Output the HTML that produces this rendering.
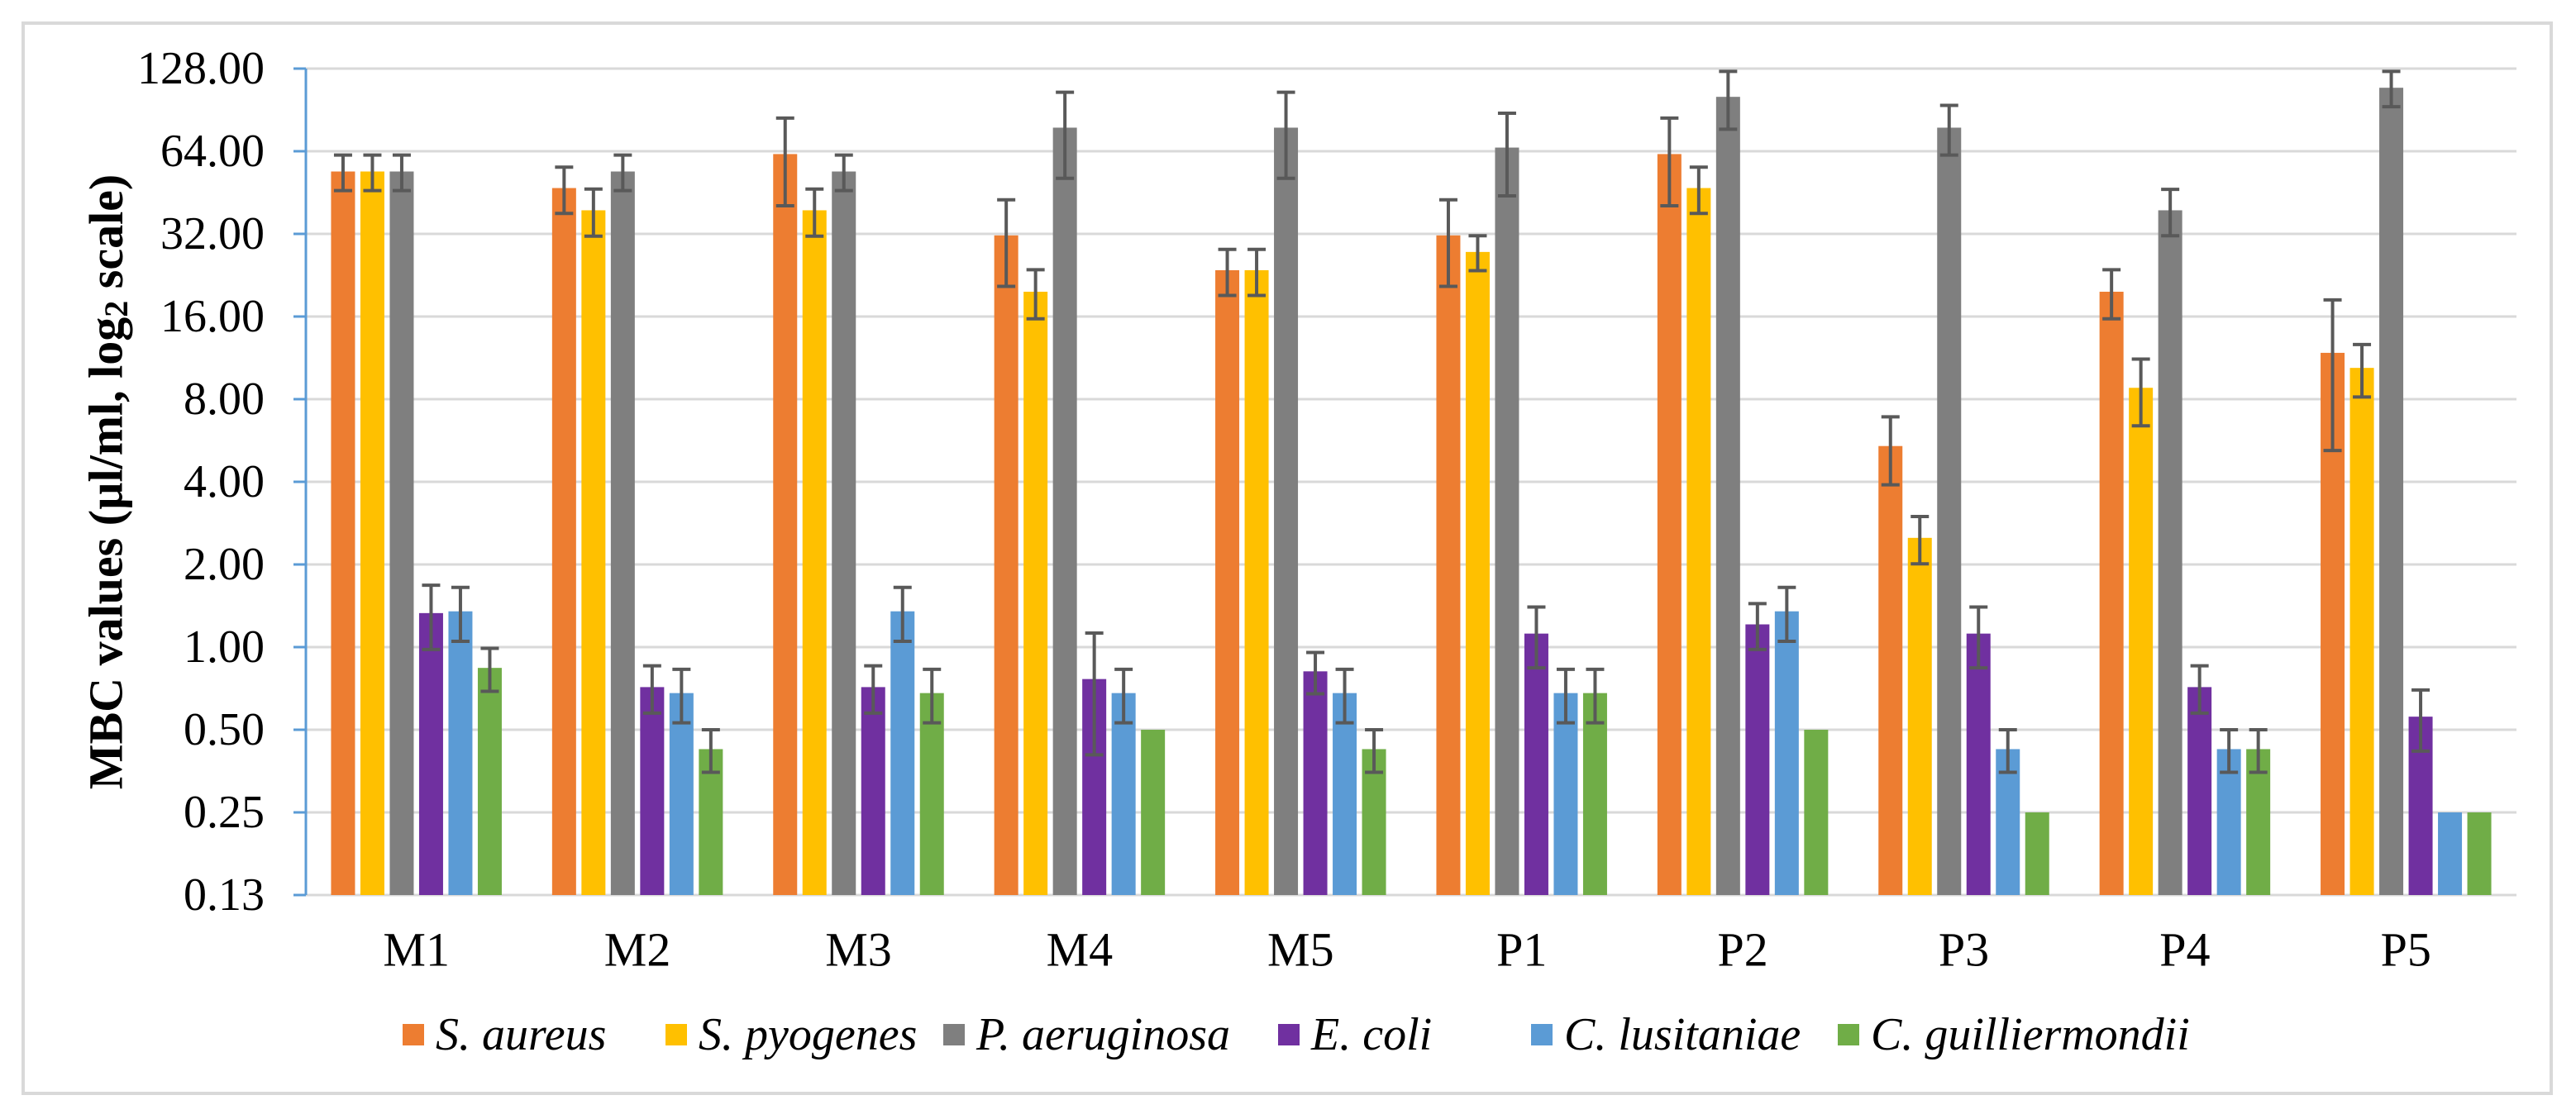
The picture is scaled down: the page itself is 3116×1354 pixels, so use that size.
<!DOCTYPE html>
<html><head><meta charset="utf-8"><style>
html,body{margin:0;padding:0;background:#fff;}
svg, svg text{font-family:"Liberation Serif","Times New Roman",serif;}
</style></head><body>
<svg id="chart" width="3116" height="1349" viewBox="0 0 3116 1349" xmlns="http://www.w3.org/2000/svg" font-family="Liberation Serif, serif">
<rect x="28" y="28" width="3058" height="1295" fill="#fff" stroke="#d9d9d9" stroke-width="4"/>
<g id="grid"></g>
<g id="bars"></g>
<g id="errs"></g>
<g id="yaxis"></g>
<g id="xaxis"></g>
<text font-family="Liberation Serif, serif" transform="translate(128,583) rotate(-90)" text-anchor="middle" dominant-baseline="central" font-size="58" font-weight="bold" fill="#000">MBC values (µl/ml, log<tspan font-size="40" dy="12">2</tspan><tspan dy="-12"> scale)</tspan></text>
<g id="legend"></g>
</svg>
<script>
const categories = ["M1","M2","M3","M4","M5","P1","P2","P3","P4","P5"];
const seriesNames = ["S. aureus","S. pyogenes","P. aeruginosa","E. coli","C. lusitaniae","C. guilliermondii"];
const seriesColors = ["#ed7d31","#ffc000","#7f7f7f","#7030a0","#5b9bd5","#70ad47"];
const sAureus      = [54, 47, 62.5, 31.6, 23.6, 31.6, 62.5, 5.4, 19.7, 11.8];
const sAureusErr   = [8, 9, 22, 11, 4.5, 11, 22, 1.5, 4, 6.6];
const sPyogenes    = [54, 39, 39, 19.7, 23.6, 27.5, 47, 2.5, 8.8, 10.4];
const sPyogenesErr = [8, 7.6, 7.6, 4, 4.5, 4, 9, 0.49, 2.4, 2.25];
const pAeruginosa    = [54, 54, 54, 78, 78, 66, 101, 78, 39, 109];
const pAeruginosaErr = [8, 8, 8, 27, 27, 22, 24, 16, 7.5, 16];
const eColi    = [1.33, 0.715, 0.715, 0.765, 0.816, 1.12, 1.21, 1.12, 0.715, 0.558];
const eColiErr = [0.35, 0.14, 0.14, 0.36, 0.14, 0.28, 0.23, 0.28, 0.14, 0.14];
const cLusitaniae    = [1.35, 0.68, 1.35, 0.68, 0.68, 0.68, 1.35, 0.425, 0.425, 0.25];
const cLusitaniaeErr = [0.3, 0.15, 0.3, 0.15, 0.15, 0.15, 0.3, 0.075, 0.075, 0];
const cGuilliermondii    = [0.84, 0.425, 0.68, 0.5, 0.425, 0.68, 0.5, 0.25, 0.425, 0.25];
const cGuilliermondiiErr = [0.15, 0.075, 0.15, 0, 0.075, 0.15, 0, 0, 0.075, 0];
const tickValues = [0.125,0.25,0.5,1,2,4,8,16,32,64,128];
const tickLabels = ["0.13","0.25","0.50","1.00","2.00","4.00","8.00","16.00","32.00","64.00","128.00"];

const seriesVals = [sAureus,sPyogenes,pAeruginosa,eColi,cLusitaniae,cGuilliermondii];
const seriesErrs = [sAureusErr,sPyogenesErr,pAeruginosaErr,eColiErr,cLusitaniaeErr,cGuilliermondiiErr];
const NS="http://www.w3.org/2000/svg";
const FONT="Liberation Serif, serif";
const X0=370, X1=3044, Y0=1083, PX_PER_DOUBLING=100, VMIN=0.125;
const groupW=(X1-X0)/categories.length, pitch=35.5, barW=29;
function yScale(v){return Y0-(Math.log2(v)-Math.log2(VMIN))*PX_PER_DOUBLING;}
function xCenter(i){return X0+groupW*(i+0.5);}
function mk(tag,attrs,parent){const e=document.createElementNS(NS,tag);for(const k in attrs)e.setAttribute(k,attrs[k]);parent.appendChild(e);return e;}
const grid=document.getElementById('grid'),yaxis=document.getElementById('yaxis'),bars=document.getElementById('bars'),errs=document.getElementById('errs'),xaxis=document.getElementById('xaxis'),legend=document.getElementById('legend');
tickValues.forEach((t,i)=>{
  const y=yScale(t);
  if(i>0){const g=mk('line',{x1:X0,x2:X1,y1:y,y2:y,stroke:'#d9d9d9','stroke-width':3},grid);
    
    }
  const tk=mk('line',{x1:355,x2:X0,y1:y,y2:y,stroke:'#5b9bd5','stroke-width':3},yaxis);
  
  
  const lb=mk('text',{x:320,y:y,'text-anchor':'end','dominant-baseline':'central','font-size':56,'font-family':FONT,fill:'#000'},yaxis);
  lb.textContent=tickLabels[i];
  
  
});
const base=mk('line',{x1:X0,x2:X1,y1:Y0,y2:Y0,stroke:'#d9d9d9','stroke-width':3},grid);


const ax=mk('line',{x1:X0,x2:X0,y1:yScale(128),y2:Y0,stroke:'#5b9bd5','stroke-width':3},yaxis);


categories.forEach((c,i)=>{
  const cx=xCenter(i);
  seriesVals.forEach((vals,s)=>{
    const bx=cx+(s-2.5)*pitch, v=vals[i], y=yScale(v);
    const r=mk('rect',{x:bx-barW/2,y:y,width:barW,height:Y0-y,fill:seriesColors[s]},bars);
    
    
    const e=seriesErrs[s][i];
    if(e>0){
      const yt=yScale(v+e), yb=yScale(Math.max(v-e,0.13));
      const g=mk('g',{stroke:'#595959','stroke-width':4},errs);
      
      
      mk('line',{x1:bx,x2:bx,y1:yt,y2:yb},g);
      mk('line',{x1:bx-11,x2:bx+11,y1:yt,y2:yt},g);
      mk('line',{x1:bx-11,x2:bx+11,y1:yb,y2:yb},g);
    }
  });
  const t=mk('text',{x:cx,y:1149,'text-anchor':'middle','dominant-baseline':'central','font-size':58,'font-family':FONT,fill:'#000'},xaxis);
  t.textContent=c;
  
  
});
const legX=[487,805,1141,1546,1852,2223];
seriesNames.forEach((n,s)=>{
  const g=mk('g',{},legend);
  
  
  mk('rect',{x:legX[s],y:1239,width:26,height:26,fill:seriesColors[s]},g);
  const t=mk('text',{x:legX[s]+40,y:1252,'dominant-baseline':'central','font-size':56,'font-style':'italic','font-family':FONT,fill:'#000'},g);
  t.textContent=n;
});
</script>
</body></html>
